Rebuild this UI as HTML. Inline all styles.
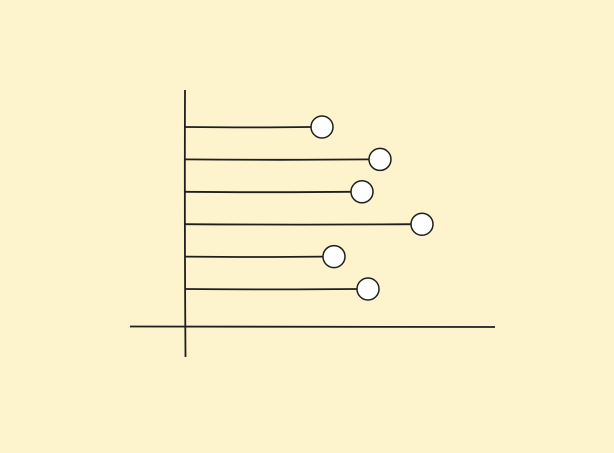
<!DOCTYPE html>
<html>
<head>
<meta charset="utf-8">
<style>
html,body{margin:0;padding:0;background:#fdf3cc;}
svg{display:block;}
</style>
</head>
<body>
<svg id="chart" width="614" height="453" viewBox="0 0 614 453">
<rect x="0" y="0" width="614" height="453" fill="#fdf3cc"/>
<g id="axes">
<path d="M185 90 Q184.5 220 185.5 357" stroke="#1f1f1f" stroke-width="1.8" fill="none"/>
<path d="M130 326.5 Q310 327.5 495 327" stroke="#1f1f1f" stroke-width="1.8" fill="none"/>
</g>
<g id="marks"></g>
</svg>
<script>
const categories = ["A", "B", "C", "D", "E", "F"];
const values = [137, 195, 177, 237, 149, 183];

const x0 = 185, xMaxPx = 485, vMax = 300;
function xScale(v){ return x0 + (v / vMax) * (xMaxPx - x0); }
function yScale(i){ return 127 + i * 32.4; }

const NS = "http://www.w3.org/2000/svg";
const g = document.getElementById("marks");
categories.forEach((c, i) => {
  const y = yScale(i);
  const xe = xScale(values[i]);
  const line = document.createElementNS(NS, "path");
  line.setAttribute("d", `M${x0} ${y} Q${(x0 + xe) / 2} ${y + 0.8} ${xe - 11} ${y}`);
  line.setAttribute("stroke", "#1f1f1f");
  line.setAttribute("stroke-width", "1.8");
  line.setAttribute("fill", "none");
  
  
  g.appendChild(line);
  const dot = document.createElementNS(NS, "circle");
  dot.setAttribute("cx", xe);
  dot.setAttribute("cy", y);
  dot.setAttribute("r", 11);
  dot.setAttribute("fill", "#ffffff");
  dot.setAttribute("stroke", "#1f1f1f");
  dot.setAttribute("stroke-width", "1.5");
  
  
  g.appendChild(dot);
});
</script>
</body>
</html>
